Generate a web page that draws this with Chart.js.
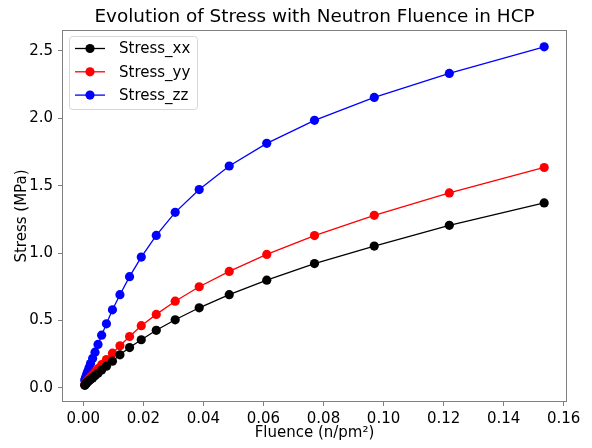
<!DOCTYPE html>
<html>
<head>
<meta charset="utf-8">
<script src="https://cdn.jsdelivr.net/npm/chart.js@4/dist/chart.umd.min.js"></script>
<style>
  html, body { margin: 0; padding: 0; background: #fff; }
  #wrap { width: 592px; height: 448px; }
</style>
</head>
<body>
<div id="wrap"><canvas id="c" width="592" height="448"></canvas></div>
<script>
// ---- data ----
const fluence = [0.1535, 0.1219, 0.0969, 0.0770, 0.0611, 0.0486, 0.0386, 0.0306, 0.0243, 0.0193,
                 0.0154, 0.0122, 0.0097, 0.0077, 0.0061, 0.0049, 0.0039, 0.0031, 0.0024, 0.0019,
                 0.0015, 0.0012, 0.00097, 0.00077, 0.00061, 0.00049];
const stressXX = [1.372, 1.206, 1.052, 0.922, 0.799, 0.691, 0.594, 0.505, 0.427, 0.357,
                  0.299, 0.245, 0.198, 0.161, 0.132, 0.108, 0.089, 0.074, 0.062, 0.053,
                  0.045, 0.039, 0.033, 0.028, 0.023, 0.019];
const stressYY = [1.635, 1.446, 1.280, 1.130, 0.990, 0.864, 0.750, 0.643, 0.545, 0.461,
                  0.381, 0.312, 0.257, 0.210, 0.172, 0.142, 0.117, 0.097, 0.081, 0.068,
                  0.058, 0.049, 0.042, 0.035, 0.028, 0.022];
const stressZZ = [2.530, 2.333, 2.155, 1.985, 1.814, 1.646, 1.471, 1.302, 1.131, 0.970,
                  0.825, 0.691, 0.579, 0.475, 0.391, 0.322, 0.265, 0.218, 0.180, 0.149,
                  0.124, 0.104, 0.088, 0.075, 0.065, 0.057];
const seriesNames = ['Stress_xx', 'Stress_yy', 'Stress_zz'];
const seriesColors = ['#000000', '#ff0000', '#0000ff'];
const xTicks = [0.00, 0.02, 0.04, 0.06, 0.08, 0.10, 0.12, 0.14, 0.16];
const yTicks = [0.0, 0.5, 1.0, 1.5, 2.0, 2.5];
const titleText = 'Evolution of Stress with Neutron Fluence in HCP';
const xTitle = 'Fluence (n/pm²)';
const yTitle = 'Stress (MPa)';

const FONT = '"DejaVu Sans", sans-serif';
const seriesValues = [stressXX, stressYY, stressZZ];
const datasets = seriesValues.map((vals, i) => ({
  label: seriesNames[i],
  data: fluence.map((x, j) => ({ x: x, y: vals[j] })),
  borderColor: seriesColors[i],
  backgroundColor: seriesColors[i],
  pointBackgroundColor: seriesColors[i],
  pointBorderColor: seriesColors[i],
  borderWidth: 1.3,
  pointRadius: 4.6,
  pointBorderWidth: 0,
  pointHoverRadius: 4.6,
  tension: 0
}));

const decorPlugin = {
  id: 'decor',
  afterDraw(chart) {
    const ctx = chart.ctx;
    const a = chart.chartArea;
    ctx.save();
    // frame
    ctx.strokeStyle = '#808080';
    ctx.lineWidth = 1;
    ctx.strokeRect(Math.round(a.left) + 0.5, Math.round(a.top) + 0.5,
                   Math.round(a.right - a.left) - 1, Math.round(a.bottom - a.top) - 1);
    // title
    ctx.fillStyle = '#000';
    ctx.font = '18.4px ' + FONT;
    ctx.textAlign = 'center';
    ctx.textBaseline = 'middle';
    ctx.fillText(titleText, (a.left + a.right) / 2, 17);
    // axis titles
    ctx.font = '15px ' + FONT;
    ctx.fillText(xTitle, (a.left + a.right) / 2, 433);
    ctx.save();
    ctx.translate(22, (a.top + a.bottom) / 2);
    ctx.rotate(-Math.PI / 2);
    ctx.fillText(yTitle, 0, 0);
    ctx.restore();
    // legend
    const lx = 69, ly = 36, lw = 128, lh = 73;
    ctx.fillStyle = 'rgba(255,255,255,0.8)';
    ctx.strokeStyle = '#d6d6d6';
    ctx.lineWidth = 1;
    ctx.beginPath();
    if (ctx.roundRect) ctx.roundRect(lx + 0.5, ly + 0.5, lw, lh, 3); else ctx.rect(lx + 0.5, ly + 0.5, lw, lh);
    ctx.fill();
    ctx.stroke();
    chart.data.datasets.forEach((ds, i) => {
      const y = 48.5 + i * 23.3;
      ctx.strokeStyle = ds.borderColor;
      ctx.lineWidth = 1.3;
      ctx.beginPath();
      ctx.moveTo(75, y);
      ctx.lineTo(105, y);
      ctx.stroke();
      ctx.fillStyle = ds.borderColor;
      ctx.beginPath();
      ctx.arc(90, y, 4.6, 0, Math.PI * 2);
      ctx.fill();
      ctx.fillStyle = '#000';
      ctx.font = '15px ' + FONT;
      ctx.textAlign = 'left';
      ctx.textBaseline = 'middle';
      ctx.fillText(ds.label, 119, y + 1);
    });
    ctx.restore();
  }
};

new Chart(document.getElementById('c'), {
  type: 'line',
  data: { datasets: datasets },
  options: {
    responsive: false,
    animation: false,
    devicePixelRatio: 1,
    layout: { padding: { top: 30, right: 25, left: 0, bottom: 0 } },
    plugins: { legend: { display: false }, title: { display: false }, tooltip: { enabled: false } },
    scales: {
      x: {
        type: 'linear',
        min: -0.0071,
        max: 0.1611,
        afterFit(s) { s.height = 46; },
        afterBuildTicks(s) { s.ticks = xTicks.map(v => ({ value: v })); },
        grid: { drawOnChartArea: false, drawTicks: true, tickLength: 4, color: '#808080', tickColor: '#808080' },
        border: { display: false },
        ticks: {
          color: '#000', font: { family: FONT, size: 15 }, padding: 4, maxRotation: 0,
          callback: v => v.toFixed(2)
        }
      },
      y: {
        type: 'linear',
        min: -0.105,
        max: 2.655,
        afterFit(s) { s.width = 62; },
        afterBuildTicks(s) { s.ticks = yTicks.map(v => ({ value: v })); },
        grid: { drawOnChartArea: false, drawTicks: true, tickLength: 4, color: '#808080', tickColor: '#808080' },
        border: { display: false },
        ticks: {
          color: '#000', font: { family: FONT, size: 15 }, padding: 5,
          callback: v => v.toFixed(1)
        }
      }
    }
  },
  plugins: [decorPlugin]
});
</script>
</body>
</html>
